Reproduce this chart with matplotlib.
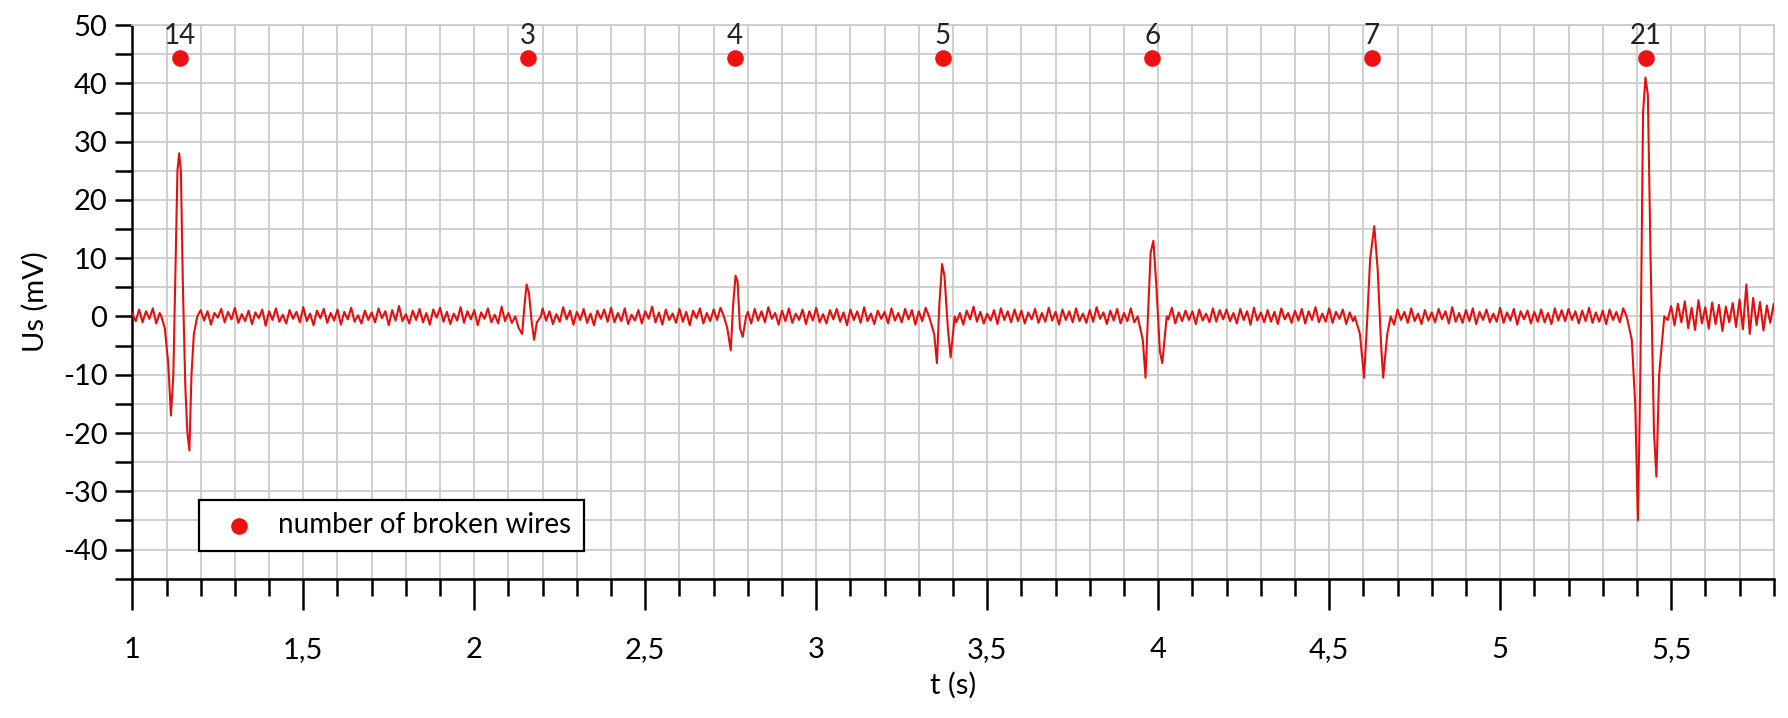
import numpy as np
import matplotlib
matplotlib.use("Agg")
import matplotlib.pyplot as plt
from matplotlib.ticker import MultipleLocator, FuncFormatter

# baseline noise sampled every 0.01 s from t=1.00 to 5.80 (mV)
noise_t0 = 1.0
noise_dt = 0.01
noise = [
 0.5,-0.8,1.2,-1.0,0.9,-0.4,1.4,-1.2,0.6,-0.9,
 0.3,-0.5,0.8,-1.1,1.0,-0.6,1.2,-0.9,0.4,-1.3,
 1.1,-0.7,0.9,-1.4,0.6,-0.2,1.3,-1.0,0.8,-0.5,
 1.5,-1.1,0.4,-0.8,1.0,-1.3,0.7,-0.3,1.2,-1.6,
 0.9,-0.6,1.4,-0.9,0.3,-1.2,1.1,-0.4,0.8,-1.0,
 1.6,-0.8,0.5,-1.5,1.0,-0.3,1.3,-1.1,0.6,-0.7,
 1.2,-1.4,0.8,-0.5,1.5,-0.9,0.2,-1.2,1.0,-0.6,
 0.7,-1.0,1.4,-0.3,0.9,-1.5,1.1,-0.7,1.8,-0.8,
 0.4,-1.2,1.0,-0.6,1.3,-1.0,0.6,-1.4,1.2,-0.2,
 1.5,-0.9,0.8,-1.3,0.5,-0.7,1.6,-1.1,0.9,-0.5,
 1.1,-1.5,0.7,-0.4,1.4,-1.0,0.3,-1.2,1.7,-0.8,
 0.6,-1.1,1.2,-0.6,0.9,-0.8,1.3,-1.0,0.5,-1.2,
 1.4,-0.7,0.9,-1.3,0.4,-0.9,1.6,-0.5,1.0,-1.4,
 0.8,-0.6,1.3,-1.1,0.5,-1.5,1.0,-0.4,1.2,-0.9,
 1.5,-1.0,0.6,-0.8,1.4,-1.3,0.3,-0.7,1.1,-1.2,
 0.9,-0.4,1.7,-1.0,0.7,-1.4,1.2,-0.6,0.5,-1.1,
 1.3,-0.9,0.8,-1.5,1.0,-0.3,1.4,-1.2,0.6,-0.8,
 1.2,-0.6,1.5,-0.9,2.0,-1.1,0.7,-1.3,1.1,-0.5,
 0.8,-1.2,1.3,-0.7,0.9,-1.0,1.6,-0.4,0.6,-1.4,
 1.0,-0.8,1.4,-1.1,0.5,-0.6,1.2,-1.3,0.9,-0.7,
 1.5,-1.0,0.4,-1.2,1.1,-0.5,1.3,-0.9,0.7,-1.5,
 1.2,-0.6,0.9,-1.1,1.6,-0.8,0.5,-1.3,1.0,-0.4,
 0.8,-1.2,1.4,-0.7,0.6,-1.0,1.3,-0.5,1.1,-1.4,
 0.9,-0.8,1.5,-1.1,0.4,-0.9,1.2,-1.3,0.7,-0.6,
 1.3,-1.0,0.6,-1.4,1.0,-0.5,1.7,-0.9,0.8,-1.2,
 0.5,-0.7,1.1,-1.3,1.4,-0.6,0.9,-1.0,1.2,-0.8,
 1.0,-1.2,0.7,-0.5,1.3,-1.1,0.6,-0.9,1.5,-0.7,
 0.8,-1.4,1.2,-0.6,0.9,-1.0,1.4,-0.8,0.5,-1.1,
 1.1,-0.9,1.6,-0.4,0.7,-1.3,1.0,-0.7,1.3,-1.2,
 0.6,-0.8,1.4,-1.0,0.9,-0.6,1.2,-1.4,0.4,-0.9,
 1.3,-1.1,0.8,-0.5,1.5,-1.2,0.7,-0.8,1.0,-0.6,
 0.9,-1.3,1.2,-0.7,0.5,-1.0,1.4,-0.9,1.1,-0.5,
 1.2,-0.8,0.6,-1.2,1.3,-0.6,0.9,-1.4,1.5,-0.7,
 0.7,-1.0,1.1,-0.9,0.8,-1.3,1.4,-0.5,0.6,-1.1,
 1.0,-0.7,1.3,-1.2,0.9,-0.6,1.6,-1.0,0.5,-0.9,
 1.4,-1.1,0.8,-0.4,1.2,-1.3,0.7,-0.8,1.1,-0.6,
 0.9,-1.2,1.5,-0.7,0.6,-1.0,1.3,-0.9,1.0,-1.4,
 1.2,-0.6,0.8,-1.1,1.4,-0.8,0.5,-1.3,1.1,-0.7,
 0.7,-1.0,1.3,-0.5,0.9,-1.2,1.6,-0.9,0.6,-1.1,
 1.1,-0.8,1.4,-1.3,0.8,-0.6,1.2,-1.0,0.5,-0.9,
 1.5,-1.1,0.7,-0.7,1.3,-1.4,0.9,-0.5,1.0,-1.2,
 0.8,-0.9,1.2,-1.0,0.6,-1.3,1.4,-0.7,1.1,-0.8,
 1.3,-0.6,0.9,-1.2,1.0,-0.8,1.5,-1.1,0.7,-0.9,
 1.0,-1.3,1.2,-0.6,0.8,-1.0,1.4,-0.9,0.6,-1.1,
 1.2,-0.8,0.9,-1.0,1.3,-0.7,0.5,-1.2,1.1,-0.6,
 1.8,-1.5,2.2,-1.0,2.6,-2.0,1.5,-2.3,2.8,-1.2,
 1.6,-2.1,2.4,-1.3,2.0,-2.5,1.7,-1.0,2.3,-1.8,
 2.9,-2.2,5.5,-3.0,3.2,-1.5,2.5,-2.4,1.9,-1.1,
 2.2,-1.7,1.5,-2.0,2.6,-1.4,1.8,-2.2,2.1,-1.6,
 1.2,
]

# pulses (t in s, Us in mV)
p14_t = [1.085,1.095,1.105,1.113,1.120,1.127,1.132,1.137,1.142,1.148,1.155,1.161,1.167,1.173,1.180,1.190]
p14_v = [0,-2,-8,-17,-10,10,25,28,25,5,-12,-20,-23,-10,-3,0]
p3_t = [2.12,2.13,2.14,2.147,2.153,2.16,2.168,2.175,2.183,2.195]
p3_v = [0,-2,-3,2,5.5,4,-1,-4,-1,0]
p4_t = [2.73,2.74,2.75,2.757,2.764,2.77,2.777,2.785,2.795]
p4_v = [0,-2,-5.8,2,7,6,-2,-3.5,0]
p5_t = [3.33,3.345,3.353,3.36,3.368,3.375,3.385,3.393,3.405]
p5_v = [0,-3,-8,2,9,7,-2,-7,0]
p6_t = [3.94,3.955,3.963,3.97,3.978,3.986,3.995,4.005,4.012,4.025]
p6_v = [0,-4,-10.5,0,11,13,5,-6,-8,0]
p7_t = [4.575,4.59,4.602,4.61,4.62,4.632,4.642,4.652,4.658,4.67,4.68]
p7_v = [0,-3,-10.5,-2,10,15.5,8,-5,-10.5,-3,0]
p21_t = [5.37,5.385,5.395,5.403,5.41,5.418,5.425,5.432,5.44,5.45,5.457,5.465,5.48]
p21_v = [0,-4,-15,-35,-10,35,41,38,10,-20,-27.5,-10,0]

# markers: number of broken wires
wire_t = [1.14, 2.157, 2.763, 3.37, 3.983, 4.625, 5.427]
wire_n = [14, 3, 4, 5, 6, 7, 21]
wire_y = 44.3

pulses = [(p14_t,p14_v),(p3_t,p3_v),(p4_t,p4_v),(p5_t,p5_v),(p6_t,p6_v),(p7_t,p7_v),(p21_t,p21_v)]
nt = noise_t0 + noise_dt*np.arange(len(noise))
nv = np.array(noise)
keep = np.ones(len(nt), bool)
for pt, pv in pulses:
    keep &= ~((nt >= pt[0]) & (nt <= pt[-1]))
t_all = np.concatenate([nt[keep]] + [np.array(p[0]) for p in pulses])
v_all = np.concatenate([nv[keep]] + [np.array(p[1]) for p in pulses])
o = np.argsort(t_all)
t_all, v_all = t_all[o], v_all[o]

plt.rcParams['font.family'] = ['Lato', 'DejaVu Sans']
fig = plt.figure(figsize=(17.88, 7.18), dpi=100)
ax = fig.add_axes([0.074, 0.194, 0.918, 0.771])

ax.plot(t_all, v_all, color='#e41010', lw=1.5, zorder=3)
ax.scatter(wire_t, [wire_y]*len(wire_t), s=120, color='#ee1111', zorder=4,
           label='number of broken wires')
for t, n in zip(wire_t, wire_n):
    ax.text(t, wire_y + 1.6, str(n), ha='center', va='bottom', fontsize=20, color='#222222')

ax.set_xlim(1, 5.8)
ax.set_ylim(-45, 50)
ax.xaxis.set_major_locator(MultipleLocator(0.5))
ax.xaxis.set_minor_locator(MultipleLocator(0.1))
ax.yaxis.set_major_locator(MultipleLocator(10))
ax.yaxis.set_minor_locator(MultipleLocator(5))
ax.xaxis.set_major_formatter(FuncFormatter(lambda v, p: f"{v:g}".replace('.', ',')))
ax.yaxis.set_major_formatter(FuncFormatter(lambda v, p: f"{v:g}"))
ax.grid(True, which='both', color='#cccccc', lw=1.3, zorder=0)
ax.set_axisbelow(True)
for s in ['top', 'right']:
    ax.spines[s].set_color('#cccccc')
    ax.spines[s].set_linewidth(1.3)
for s in ['left', 'bottom']:
    ax.spines[s].set_color('black')
    ax.spines[s].set_linewidth(1.8)
ax.tick_params(axis='x', which='major', direction='out', length=22, width=1.8, labelsize=21, pad=20)
ax.tick_params(axis='x', which='minor', direction='out', length=12, width=1.8)
ax.tick_params(axis='y', which='both', direction='out', length=12, width=1.8, labelsize=21, pad=6)
ax.set_xlabel('t (s)', fontsize=21, labelpad=6)
ax.set_ylabel('Us (mV)', fontsize=21, labelpad=10)

leg = ax.legend(loc='lower left', bbox_to_anchor=(0.032, 0.025), fontsize=20,
                frameon=True, fancybox=False, edgecolor='black', framealpha=1,
                handletextpad=0.4, borderpad=0.45, markerscale=1.0)
leg.get_frame().set_linewidth(1.6)

fig.savefig('out.png', dpi=100)
